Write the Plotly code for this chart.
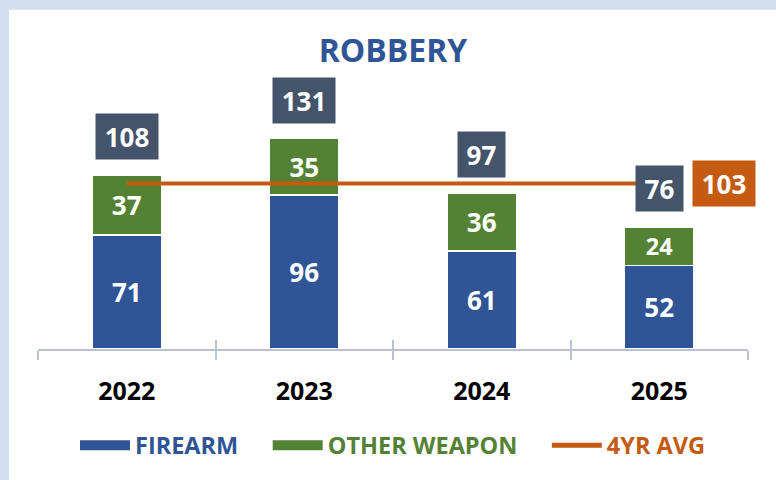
import plotly.graph_objects as go

years = ["2022", "2023", "2024", "2025"]
firearm = [71, 96, 61, 52]
other_weapon = [37, 35, 36, 24]
totals = [108, 131, 97, 76]
avg_4yr = 103

C_FIRE = "#2f5597"
C_OTHER = "#548235"
C_AVG = "#c55a11"
C_TOTAL = "#44546a"
C_AXIS = "#b8c2d4"
C_BORDER = "#d3deef"
FONT = "Open Sans"

fig = go.Figure()

fig.add_trace(go.Bar(
    x=years, y=firearm, name="FIREARM", marker=dict(color=C_FIRE, line=dict(color="white", width=1.5)),
    text=[str(v) for v in firearm], textposition="inside", insidetextanchor="middle", textangle=0,
    insidetextfont=dict(family=FONT, size=26, color="white", weight="bold"),
    width=0.39, showlegend=False, cliponaxis=False,
))
fig.add_trace(go.Bar(
    x=years, y=other_weapon, name="OTHER WEAPON", marker=dict(color=C_OTHER, line=dict(color="white", width=1.5)),
    text=[str(v) for v in other_weapon], textposition="inside", insidetextanchor="middle", textangle=0,
    insidetextfont=dict(family=FONT, size=26, color="white", weight="bold"),
    width=0.39, showlegend=False, cliponaxis=False,
))
fig.add_trace(go.Scatter(
    x=[years[0], years[-1]], y=[avg_4yr, avg_4yr], mode="lines",
    line=dict(color=C_AVG, width=4), showlegend=False, cliponaxis=False,
))

# legend entries
SP = "&nbsp;" * 4
fig.add_trace(go.Scatter(x=[None], y=[None], mode="lines", line=dict(color=C_FIRE, width=11),
                         name=f"<span style='color:{C_FIRE}'>FIREARM</span>{SP}"))
fig.add_trace(go.Scatter(x=[None], y=[None], mode="lines", line=dict(color=C_OTHER, width=11),
                         name=f"<span style='color:{C_OTHER}'>OTHER WEAPON</span>{SP}"))
fig.add_trace(go.Scatter(x=[None], y=[None], mode="lines", line=dict(color=C_AVG, width=5),
                         name=f"<span style='color:{C_AVG}'>4YR AVG</span>"))

# helper trace for upward ticks
fig.add_trace(go.Scatter(x=years, y=[None] * len(years), xaxis="x2", showlegend=False, hoverinfo="skip"))

annotations = []
for i, t in enumerate(totals):
    annotations.append(dict(
        x=i, y=t, xref="x", yref="y", text=f"<b>{t}</b>", showarrow=False,
        yanchor="bottom", yshift=15, bgcolor=C_TOTAL, borderpad=6,
        width=15 * len(str(t)) + 5, height=33,
        font=dict(family=FONT, size=26, color="white"),
    ))
annotations.append(dict(
    x=len(years) - 1, y=avg_4yr, xref="x", yref="y", text=f"<b>{avg_4yr}</b>", showarrow=False,
    xanchor="left", xshift=33, yanchor="middle", bgcolor=C_AVG, borderpad=6,
    width=15 * len(str(avg_4yr)) + 5, height=33,
    font=dict(family=FONT, size=26, color="white"),
))

fig.update_layout(
    width=776, height=480,
    margin=dict(l=38, r=28, t=108, b=128),
    paper_bgcolor=C_BORDER, plot_bgcolor="white",
    barmode="stack", bargap=0.61,
    title=dict(text="<b>ROBBERY</b>", x=0.5, xref="paper", xanchor="center",
               y=1 - 51 / 480, yref="container", yanchor="middle",
               font=dict(family=FONT, size=32, color=C_FIRE)),
    xaxis=dict(type="category", categoryarray=years, range=[-0.5, 3.5],
               showline=True, linecolor=C_AXIS, linewidth=2,
               ticks="outside", tickson="boundaries", ticklen=9, tickwidth=2, tickcolor=C_AXIS,
               tickfont=dict(family=FONT, size=25, color="black", weight="bold"),
               ticklabelstandoff=19, showgrid=False, zeroline=False, fixedrange=True),
    xaxis2=dict(type="category", categoryarray=years, range=[-0.5, 3.5], overlaying="x",
                anchor="y", side="bottom", ticks="inside", tickson="boundaries", ticklen=9,
                tickwidth=2, tickcolor=C_AXIS, showticklabels=False, showline=False,
                showgrid=False, zeroline=False),
    yaxis=dict(range=[0, 150], visible=False, showgrid=False, zeroline=False),
    legend=dict(orientation="h", x=0.5, xanchor="center", xref="paper",
                y=-0.40, yanchor="middle", itemwidth=50, bgcolor="rgba(0,0,0,0)",
                font=dict(family=FONT, size=23.5, weight="bold"), traceorder="normal",
                itemclick=False, itemdoubleclick=False),
    shapes=[dict(type="rect", xref="paper", yref="paper", x0=-29 / 710, x1=1.2,
                 y0=-0.8, y1=342 / 243, fillcolor="white", line=dict(width=0), layer="below")],
    annotations=annotations,
    showlegend=True,
)

fig.write_html("out.html", config={"displayModeBar": False},
               post_script="document.body.style.margin='0';document.body.style.overflow='hidden';")
